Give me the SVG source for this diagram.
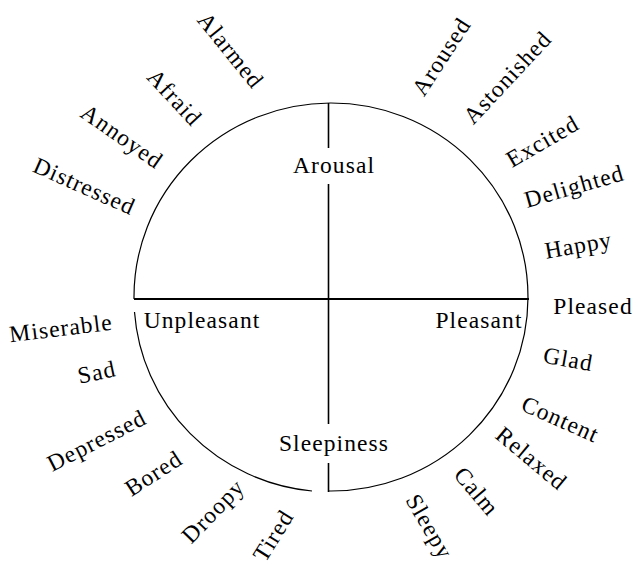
<svg xmlns="http://www.w3.org/2000/svg" width="633" height="567" viewBox="0 0 633 567">
<style>
text{font-family:"Liberation Serif","Times New Roman",serif;font-size:23.5px;letter-spacing:1.1px;fill:#000;text-anchor:middle}
.c{fill:none;stroke:#000;stroke-width:1.2}
.ax{fill:none;stroke:#000;stroke-width:1.6}
</style>
<rect width="633" height="567" fill="#fff"/>
<g id="connectors">
<path class="c" d="M329,491 A197,194 0 1 0 134,299"/>
<path class="c" d="M134.5,312 A197,194 0 0 0 312,491"/>
<line class="ax" x1="134" y1="299" x2="529" y2="299" style="stroke-width:2"/>
<line class="ax" x1="328.5" y1="103" x2="328.5" y2="148"/>
<line class="ax" x1="328.5" y1="184" x2="328.5" y2="424"/>
<line class="ax" x1="328.5" y1="463" x2="328.5" y2="492"/>
</g>
<g id="arousal"><text x="334" y="173">Arousal</text></g>
<g id="sleepiness"><text x="334" y="451">Sleepiness</text></g>
<g id="unpleasant"><text x="202" y="328">Unpleasant</text></g>
<g id="pleasant"><text x="479" y="328">Pleasant</text></g>
<g id="alarmed"><text transform="translate(230,51) rotate(51)" y="7">Alarmed</text></g>
<g id="afraid"><text transform="translate(174,98) rotate(47)" y="7">Afraid</text></g>
<g id="annoyed"><text transform="translate(121,138) rotate(35)" y="6">Annoyed</text></g>
<g id="distressed"><text transform="translate(84,187) rotate(24)" y="7">Distressed</text></g>
<g id="aroused"><text transform="translate(442,57) rotate(-57)" y="7">Aroused</text></g>
<g id="astonished"><text transform="translate(508,78) rotate(-47)" y="7">Astonished</text></g>
<g id="excited"><text transform="translate(543,142) rotate(-30)" y="7">Excited</text></g>
<g id="delighted"><text transform="translate(575,189) rotate(-16)" y="5">Delighted</text></g>
<g id="happy"><text transform="translate(579,249) rotate(-10)" y="4">Happy</text></g>
<g id="pleased"><text x="593" y="314">Pleased</text></g>
<g id="glad"><text transform="translate(568,361) rotate(10)" y="6">Glad</text></g>
<g id="content"><text transform="translate(560,420) rotate(24)" y="7">Content</text></g>
<g id="relaxed"><text transform="translate(531,459) rotate(40)" y="7">Relaxed</text></g>
<g id="calm"><text transform="translate(476,492) rotate(50)" y="7">Calm</text></g>
<g id="sleepy"><text transform="translate(427,528) rotate(60)" y="5">Sleepy</text></g>
<g id="miserable"><text transform="translate(61,329) rotate(-7)" y="7">Miserable</text></g>
<g id="sad"><text transform="translate(97,373) rotate(-12)" y="7">Sad</text></g>
<g id="depressed"><text transform="translate(98,443) rotate(-27)" y="5">Depressed</text></g>
<g id="bored"><text transform="translate(154,474) rotate(-33)" y="7">Bored</text></g>
<g id="droopy"><text transform="translate(215,513) rotate(-46)" y="5">Droopy</text></g>
<g id="tired"><text transform="translate(274,536) rotate(-58)" y="7">Tired</text></g>
</svg>
